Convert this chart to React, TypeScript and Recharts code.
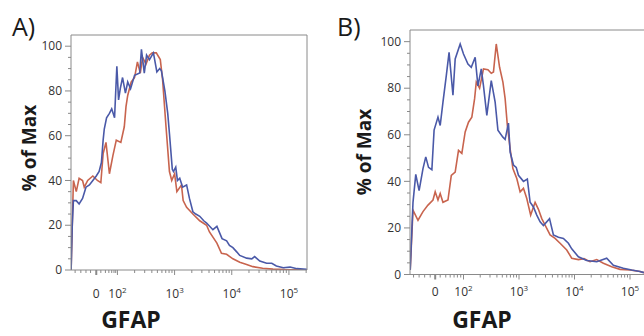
import { LineChart, Line, XAxis, YAxis, ReferenceLine } from 'recharts';

const FONT = '"Open Sans", "DejaVu Sans", sans-serif';
const BLUE = '#4a59a8';
const RED = '#c8644e';
const AXIS = '#8a8a8a';
const TEXT = '#333';

// x is in display decades (2 = 10^2, 3 = 10^3 ...), y is % of max
const aBlueX = [1.19, 1.21, 1.23, 1.28, 1.33, 1.39, 1.45, 1.51, 1.57, 1.63, 1.68, 1.72, 1.75, 1.77, 1.81, 1.86, 1.90, 1.95, 1.99, 2.02, 2.05, 2.09, 2.14, 2.18, 2.23, 2.30, 2.39, 2.42, 2.47, 2.51, 2.56, 2.63, 2.69, 2.74, 2.77, 2.83, 2.88, 2.91, 2.96, 2.98, 3.02, 3.05, 3.09, 3.14, 3.21, 3.26, 3.32, 3.37, 3.44, 3.51, 3.56, 3.67, 3.74, 3.83, 3.91, 3.96, 4.02, 4.09, 4.14, 4.26, 4.35, 4.40, 4.49, 4.61, 4.70, 4.78, 4.90, 5.02, 5.14, 5.31];
const aBlueY = [0, 20, 31, 31, 29.5, 32, 37, 38, 40, 42, 44, 48, 58, 63, 68, 70, 72, 68, 91, 76, 81, 86, 79, 84, 81, 87, 88, 98.6, 88, 96, 94, 97, 88.5, 90, 89, 80, 70, 61, 45, 44, 46, 40, 41, 37, 38, 32, 26, 25, 24, 22, 21, 18, 19.5, 14, 13, 11, 10, 8, 6.5, 5.3, 5, 6, 4, 3, 3, 1.8, 1, 1.3, 0.6, 0.3];

const aRedX = [1.19, 1.23, 1.28, 1.33, 1.39, 1.42, 1.48, 1.57, 1.65, 1.71, 1.75, 1.80, 1.86, 1.92, 1.98, 2.06, 2.12, 2.15, 2.18, 2.24, 2.30, 2.35, 2.40, 2.44, 2.50, 2.56, 2.61, 2.68, 2.75, 2.79, 2.85, 2.91, 2.95, 3.00, 3.04, 3.12, 3.15, 3.21, 3.32, 3.44, 3.56, 3.61, 3.74, 3.82, 3.91, 4.02, 4.14, 4.26, 4.37, 4.54, 4.72, 4.93, 5.19, 5.31];
const aRedY = [0, 40, 35, 41, 40, 37, 40, 42, 40, 39, 52, 57, 43, 51, 58, 57, 64, 73, 78, 84, 86, 93, 88, 95, 92, 96, 97, 97, 94, 85, 64, 44, 40, 43, 35, 38, 31, 28, 25, 22, 20, 17, 12, 7.5, 7, 5, 3.5, 2.5, 1.5, 0.8, 0.4, 0.2, 0.1, 0.1];

const bBlueX = [1.04, 1.09, 1.14, 1.20, 1.27, 1.32, 1.37, 1.43, 1.47, 1.54, 1.58, 1.63, 1.69, 1.74, 1.81, 1.85, 1.94, 2.00, 2.08, 2.14, 2.21, 2.26, 2.32, 2.36, 2.42, 2.50, 2.57, 2.62, 2.71, 2.75, 2.81, 2.84, 2.90, 2.95, 2.99, 3.08, 3.15, 3.20, 3.26, 3.32, 3.38, 3.44, 3.55, 3.62, 3.71, 3.80, 3.89, 3.95, 4.07, 4.22, 4.40, 4.58, 4.70, 4.88, 5.03, 5.18, 5.25];
const bBlueY = [2, 31, 43, 36, 45.5, 50.5, 46, 45, 62, 67.6, 64, 74, 85.4, 95.4, 77, 92.6, 99, 94.7, 90.4, 89, 93.3, 81, 88.3, 81, 68.3, 83.3, 74, 62, 59, 58, 65, 52.6, 47, 46, 42.6, 40, 41, 31, 29, 25.5, 22.6, 21, 24, 17, 16, 15.5, 13.4, 11, 7.6, 6, 5.5, 7, 4, 2.7, 1.9, 1.3, 0.8];

const bRedX = [1.04, 1.09, 1.18, 1.27, 1.36, 1.45, 1.49, 1.54, 1.58, 1.63, 1.72, 1.78, 1.85, 1.91, 1.97, 2.03, 2.09, 2.15, 2.20, 2.23, 2.29, 2.36, 2.44, 2.50, 2.54, 2.59, 2.65, 2.71, 2.75, 2.79, 2.84, 2.89, 2.96, 3.02, 3.08, 3.14, 3.21, 3.29, 3.35, 3.41, 3.50, 3.56, 3.65, 3.74, 3.86, 3.95, 4.07, 4.17, 4.28, 4.40, 4.52, 4.67, 4.82, 5.00, 5.18, 5.25];
const bRedY = [2, 27.6, 23.3, 27, 29.8, 32, 35.5, 32, 34.8, 31, 32, 42.6, 44, 53.3, 52, 61.2, 65.4, 67.6, 75.5, 82.6, 80, 88.3, 87.9, 86.4, 87, 99, 89, 82.6, 75.5, 64, 54, 45.5, 41.2, 35.5, 37, 32.6, 25.5, 31, 28, 24, 19.8, 17, 15.5, 13.4, 10.5, 7, 6.4, 6.8, 5.5, 6.4, 4.8, 3.3, 2.2, 1.9, 1.3, 0.8];

const xTickLabels = ['0', '10^2', '10^3', '10^4', '10^5'];
const aMajorTicks = [1.63, 2, 3, 4, 5];
const bMajorTicks = [1.49, 2, 3, 4, 5];
// small ticks in the linear part around zero
const aZeroTicks = [1.26, 1.36, 1.45, 1.53, 1.71, 1.79, 1.85, 1.9, 1.94, 1.97];
const bZeroTicks = [1.1, 1.2, 1.3, 1.4, 1.58, 1.68, 1.76, 1.83, 1.89, 1.95];

const yTicks = [0, 5, 10, 15, 20, 25, 30, 35, 40, 45, 50, 55, 60, 65, 70, 75, 80, 85, 90, 95, 100];

function pts(xs: number[], ys: number[]) {
  return xs.map((x, i) => ({ x, y: ys[i] }));
}

function logMinors(lo: number, hi: number) {
  const out: number[] = [];
  for (let n = 2; n <= 5; n++) {
    for (let k = 2; k <= 9; k++) {
      const v = n + Math.log10(k);
      if (v > lo && v < hi) out.push(v);
    }
  }
  return out;
}

function XTick({ x, y, payload, majors, labelDy }: any) {
  const i = majors.indexOf(payload.value);
  if (i < 0) {
    return <line x1={x} x2={x} y1={y} y2={y + 3} stroke={AXIS} />;
  }
  const [base, exp] = xTickLabels[i].split('^');
  return (
    <g>
      <line x1={x} x2={x} y1={y} y2={y + 5} stroke={AXIS} strokeWidth={i === 0 ? 2 : 1} />
      <text x={x} y={y + labelDy} textAnchor="middle" fontSize={12} fill={TEXT} fontFamily={FONT}>
        {base}
        {exp && <tspan dy={-5} fontSize={8}>{exp}</tspan>}
      </text>
    </g>
  );
}

function YTick({ x, y, payload }: any) {
  const v = payload.value;
  const major = v % 20 === 0;
  return (
    <g>
      <line x1={x - (major ? 6 : 3)} x2={x} y1={y} y2={y} stroke={AXIS} />
      {major && (
        <text x={x - 9} y={y} dy="0.35em" textAnchor="end" fontSize={12} fill={TEXT} fontFamily={FONT}>
          {v}
        </text>
      )}
    </g>
  );
}

function Panel({ left, margin, xDomain, majors, zeroTicks, red, blue, labelDy, rightBorder }: any) {
  const ticks = [...zeroTicks, ...majors, ...logMinors(xDomain[0], xDomain[1])].sort((a, b) => a - b);
  return (
    <div style={{ position: 'absolute', left, top: 0 }}>
      <LineChart width={322} height={336} margin={margin}>
        <XAxis
          dataKey="x"
          type="number"
          domain={xDomain}
          allowDataOverflow
          ticks={ticks}
          interval={0}
          tickLine={false}
          tickSize={0}
          tickMargin={0}
          height={20}
          axisLine={{ stroke: AXIS }}
          tick={(p: any) => <XTick {...p} majors={majors} labelDy={labelDy} />}
        />
        <YAxis
          type="number"
          domain={[0, 105]}
          allowDataOverflow
          ticks={yTicks}
          interval={0}
          tickLine={false}
          tickSize={0}
          tickMargin={0}
          width={30}
          axisLine={{ stroke: AXIS }}
          tick={(p: any) => <YTick {...p} />}
        />
        <ReferenceLine y={105} stroke={AXIS} />
        {rightBorder && <ReferenceLine x={xDomain[1]} stroke={AXIS} />}
        <Line data={red} dataKey="y" type="linear" stroke={RED} strokeWidth={1.6} dot={false} isAnimationActive={false} />
        <Line data={blue} dataKey="y" type="linear" stroke={BLUE} strokeWidth={1.6} dot={false} isAnimationActive={false} />
      </LineChart>
    </div>
  );
}

export default function App() {
  return (
    <div style={{ position: 'absolute', left: 0, top: 0, width: 644, height: 336, background: '#fff', overflow: 'hidden' }}>
      <Panel
        left={0}
        margin={{ top: 35, right: 15, bottom: 46, left: 41 }}
        xDomain={[1.188, 5.316]}
        majors={aMajorTicks}
        zeroTicks={aZeroTicks}
        red={pts(aRedX, aRedY)}
        blue={pts(aBlueX, aBlueY)}
        labelDy={28}
        rightBorder
      />
      <Panel
        left={322}
        margin={{ top: 30, right: 0, bottom: 41.5, left: 58 }}
        xDomain={[1.036, 5.252]}
        majors={bMajorTicks}
        zeroTicks={bZeroTicks}
        red={pts(bRedX, bRedY)}
        blue={pts(bBlueX, bBlueY)}
        labelDy={21.5}
        rightBorder={false}
      />
      <svg width={644} height={336} style={{ position: 'absolute', left: 0, top: 0, pointerEvents: 'none' }}>
        <g fontFamily={FONT} fill="#1a1a1a">
          <text x={12} y={36} fontSize={25}>A)</text>
          <text x={337} y={36} fontSize={25}>B)</text>
          <text x={131} y={328} fontSize={23} fontWeight={700} textAnchor="middle">GFAP</text>
          <text x={482} y={328} fontSize={23} fontWeight={700} textAnchor="middle">GFAP</text>
          <text x={36} y={148} fontSize={19} fontWeight={700} textAnchor="middle" transform="rotate(-90 36 148)">% of Max</text>
          <text x={371} y={152} fontSize={19} fontWeight={700} textAnchor="middle" transform="rotate(-90 371 152)">% of Max</text>
        </g>
      </svg>
    </div>
  );
}
